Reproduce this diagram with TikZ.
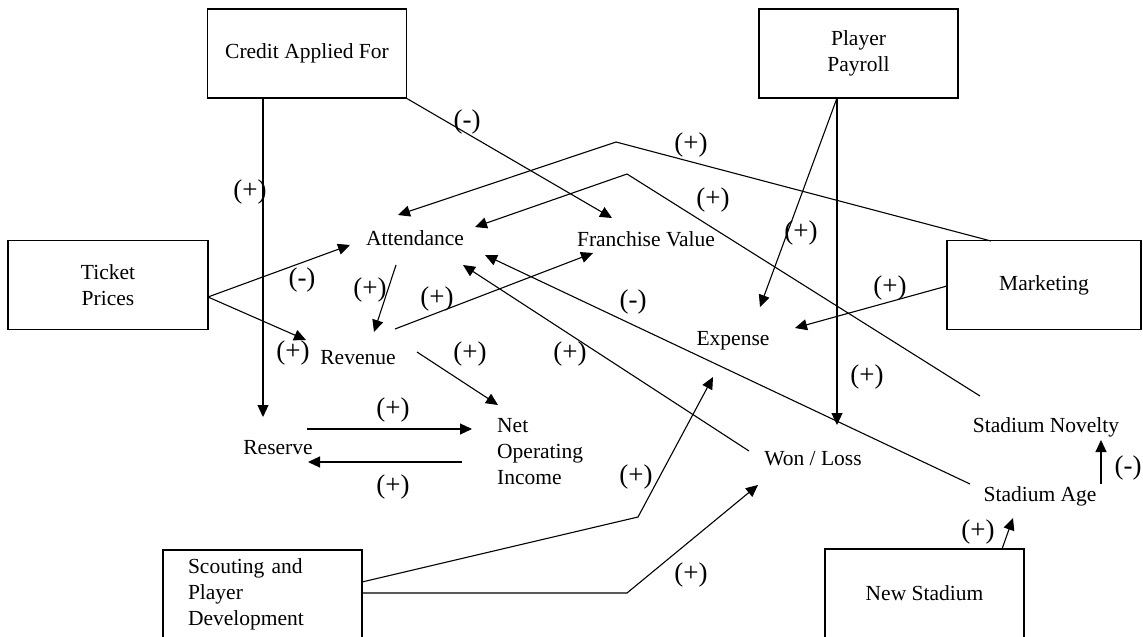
\documentclass[tikz,border=0pt]{standalone}
\usepackage{fontspec}
\setmainfont{Liberation Serif}
\usetikzlibrary{arrows.meta}
\begin{document}
\begin{tikzpicture}[x=1pt,y=-1pt,
  every node/.style={font=\fontsize{21.5}{26}\selectfont},
  box/.style={draw, line width=1.3pt, minimum width=199pt, minimum height=89pt, inner sep=0pt, align=center},
  var/.style={inner sep=0pt, align=left},
  sign/.style={inner sep=0pt, font=\fontsize{27}{30}\selectfont},
  link/.style={line width=1.1pt, -{Triangle[length=12pt,width=11pt]}},
]
\useasboundingbox (0,0) rectangle (1143,637);
\fill[white] (0,0) rectangle (1143,637);

% boxes
\node[box] (credit) at (307,53.5) {Credit Applied For};
\node[box] (payroll) at (858.5,53.5) {Player\\Payroll};
\node[box, minimum width=200pt] (ticket) at (108,285) {Ticket\\Prices};
\node[box, minimum width=194pt] (marketing) at (1044,285) {Marketing};
\node[box, text width=149pt, inner xsep=25pt, align=left] (scouting) at (262.5,594.5) {Scouting and\\Player\\Development};
\node[box] (newstadium) at (924.5,593.5) {New Stadium};

% variables
\node[var] (att) at (415,238) {Attendance};
\node[var] (fv) at (646,239) {Franchise Value};
\node[var] (rev) at (358,358) {Revenue};
\node[var, anchor=west] (noi) at (497,452) {Net\\Operating\\Income};
\node[var] (res) at (278,448) {Reserve};
\node[var] (exp) at (733,341) {Expense};
\node[var] (wl) at (813,459) {Won / Loss};
\node[var] (nov) at (1046,427) {Stadium Novelty};
\node[var] (age) at (1040,496) {Stadium Age};

% connector end points
\coordinate (credit-out) at (263,98);
\coordinate (res-top) at (263,417);
\coordinate (fv-top) at (612,218);
\coordinate (ticket-out) at (208,297);
\coordinate (att-left) at (350,245);
\coordinate (rev-left) at (306,340);
\coordinate (att-bot) at (396,265);
\coordinate (rev-top) at (374,332);
\coordinate (rev-out1) at (395,329);
\coordinate (fv-bot) at (593,253);
\coordinate (rev-out2) at (417,352);
\coordinate (noi-top) at (498,405);
\coordinate (res-out) at (307,429);
\coordinate (noi-in) at (472,429);
\coordinate (noi-out) at (462,462);
\coordinate (res-in) at (308,462);
\coordinate (mk-top) at (991,241);
\coordinate (mk-bend) at (616,142);
\coordinate (att-top1) at (398,215);
\coordinate (nov-out) at (980,396);
\coordinate (nov-bend) at (627,174);
\coordinate (att-top2) at (475,227);
\coordinate (pay-out) at (837,98);
\coordinate (exp-top) at (760,307);
\coordinate (wl-top) at (837,425);
\coordinate (mk-out) at (947,286);
\coordinate (exp-right) at (795,328);
\coordinate (wl-out) at (749,451);
\coordinate (att-bot2) at (463,265);
\coordinate (age-out) at (970,484);
\coordinate (att-bot3) at (485,255);
\coordinate (sc-out1) at (362,582);
\coordinate (sc-bend1) at (638,517);
\coordinate (exp-bot) at (713,377);
\coordinate (sc-out2) at (362,593);
\coordinate (sc-bend2) at (627,593);
\coordinate (wl-bot) at (758,485);
\coordinate (age-top) at (1101,484);
\coordinate (nov-bot) at (1101,440);
\coordinate (ns-out) at (1002,549);
\coordinate (age-bot) at (1013,518);

% connectors
\draw[link] (credit-out) -- (res-top);
\draw[link] (credit.south east) -- (fv-top);
\draw[link] (ticket-out) -- (att-left);
\draw[link] (ticket-out) -- (rev-left);
\draw[link] (att-bot) -- (rev-top);
\draw[link] (rev-out1) -- (fv-bot);
\draw[link] (rev-out2) -- (noi-top);
\draw[link] (res-out) -- (noi-in);
\draw[link] (noi-out) -- (res-in);
\draw[link] (mk-top) -- (mk-bend) -- (att-top1);
\draw[link] (nov-out) -- (nov-bend) -- (att-top2);
\draw[link] (pay-out) -- (exp-top);
\draw[link] (pay-out) -- (wl-top);
\draw[link] (mk-out) -- (exp-right);
\draw[link] (wl-out) -- (att-bot2);
\draw[link] (age-out) -- (att-bot3);
\draw[link] (sc-out1) -- (sc-bend1) -- (exp-bot);
\draw[link] (sc-out2) -- (sc-bend2) -- (wl-bot);
\draw[link] (age-top) -- (nov-bot);
\draw[link] (ns-out) -- (age-bot);

% signs
\node[sign] (s1) at (250,192) {(+)};
\node[sign] (s2) at (467,122) {(-)};
\node[sign] (s3) at (302,280) {(-)};
\node[sign] (s4) at (293,353) {(+)};
\node[sign] (s5) at (370,290) {(+)};
\node[sign] (s6) at (437,299) {(+)};
\node[sign] (s7) at (470,354) {(+)};
\node[sign] (s8) at (393,410) {(+)};
\node[sign] (s9) at (393,487) {(+)};
\node[sign] (s10) at (691,145) {(+)};
\node[sign] (s11) at (713,200) {(+)};
\node[sign] (s12) at (801,233) {(+)};
\node[sign] (s13) at (867,377) {(+)};
\node[sign] (s14) at (890,288) {(+)};
\node[sign] (s15) at (570,354) {(+)};
\node[sign] (s16) at (633,302) {(-)};
\node[sign] (s17) at (636,477) {(+)};
\node[sign] (s18) at (691,575) {(+)};
\node[sign] (s19) at (1128,468) {(-)};
\node[sign] (s20) at (978,532) {(+)};
\end{tikzpicture}
\end{document}
